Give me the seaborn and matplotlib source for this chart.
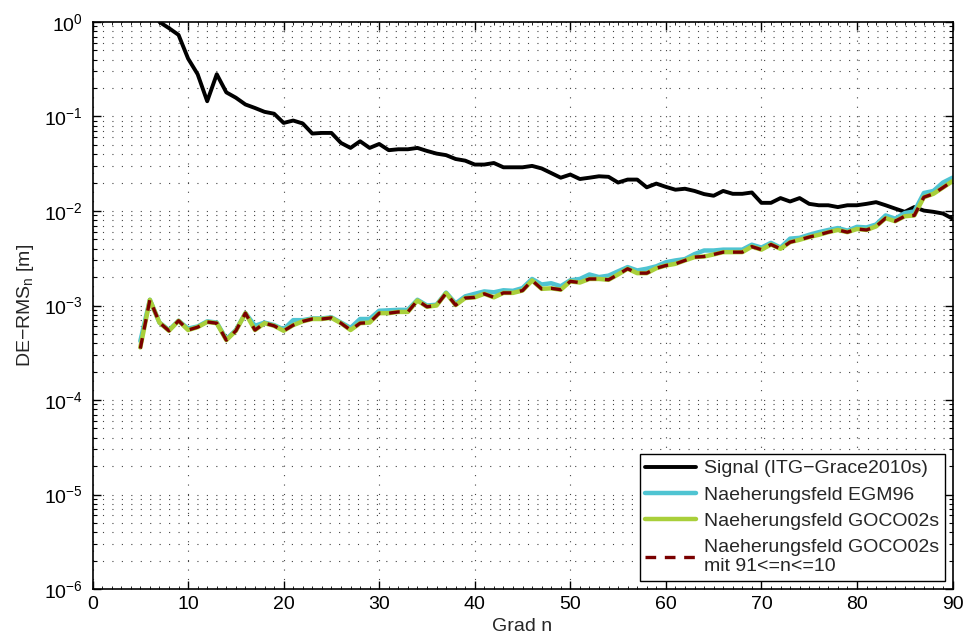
import numpy as np
import pandas as pd
import seaborn as sns
import matplotlib
matplotlib.use("Agg")
import matplotlib.pyplot as plt
from matplotlib.ticker import LogLocator, FixedLocator, NullFormatter, MultipleLocator

# ---------------- data ----------------
n_signal = list(range(7, 91))
signal = [1.0, 0.86, 0.73, 0.41, 0.28, 0.145, 0.28, 0.18, 0.158, 0.134,
          0.123, 0.112, 0.107, 0.0855, 0.0906, 0.0843, 0.066, 0.067, 0.067, 0.0525,
          0.0465, 0.0547, 0.0465, 0.0512, 0.044, 0.045, 0.045, 0.0465, 0.0432, 0.0405,
          0.039, 0.0355, 0.0341, 0.031, 0.031, 0.0322, 0.029, 0.029, 0.029, 0.030,
          0.0282, 0.0252, 0.0225, 0.0243, 0.0218, 0.0225, 0.0233, 0.023, 0.020, 0.0215,
          0.0215, 0.0178, 0.0195, 0.018, 0.0168, 0.0172, 0.0163, 0.0151, 0.0145, 0.0163,
          0.0152, 0.0152, 0.0157, 0.0122, 0.0122, 0.0137, 0.0126, 0.0137, 0.0119, 0.0115,
          0.0115, 0.0110, 0.0115, 0.0115, 0.0119, 0.0124, 0.0115, 0.0106, 0.0098, 0.0110,
          0.0101, 0.0098, 0.0094, 0.0083]

n_err = list(range(5, 91))
egm96 = [4.2e-4, 1.15e-3, 6.6e-4, 5.5e-4, 6.9e-4, 5.7e-4, 6.0e-4, 6.8e-4, 6.6e-4, 4.4e-4,
         5.5e-4, 8.3e-4, 6.1e-4, 6.6e-4, 6.2e-4, 5.6e-4, 7.0e-4, 7.0e-4, 7.3e-4, 7.3e-4,
         7.5e-4, 6.6e-4, 5.8e-4, 7.2e-4, 7.2e-4, 8.8e-4, 8.9e-4, 9.0e-4, 9.0e-4, 1.15e-3,
         1.0e-3, 1.02e-3, 1.37e-3, 1.05e-3, 1.25e-3, 1.33e-3, 1.41e-3, 1.38e-3, 1.45e-3, 1.43e-3,
         1.53e-3, 1.91e-3, 1.67e-3, 1.72e-3, 1.60e-3, 1.85e-3, 1.91e-3, 2.13e-3, 2.0e-3, 2.07e-3,
         2.3e-3, 2.55e-3, 2.35e-3, 2.45e-3, 2.6e-3, 2.87e-3, 3.0e-3, 3.1e-3, 3.5e-3, 3.82e-3,
         3.82e-3, 3.9e-3, 3.9e-3, 3.9e-3, 4.4e-3, 4.1e-3, 4.6e-3, 4.1e-3, 5.1e-3, 5.2e-3,
         5.6e-3, 5.97e-3, 6.3e-3, 6.6e-3, 6.2e-3, 6.8e-3, 6.7e-3, 7.2e-3, 8.98e-3, 8.3e-3,
         9.5e-3, 9.9e-3, 1.55e-2, 1.63e-2, 2.0e-2, 2.25e-2]
goco02s = [3.6e-4, 1.15e-3, 6.6e-4, 5.4e-4, 6.9e-4, 5.5e-4, 5.9e-4, 6.7e-4, 6.5e-4, 4.3e-4,
           5.4e-4, 8.3e-4, 5.5e-4, 6.5e-4, 6.1e-4, 5.4e-4, 6.2e-4, 6.8e-4, 7.2e-4, 7.2e-4,
           7.4e-4, 6.5e-4, 5.5e-4, 6.5e-4, 6.6e-4, 8.3e-4, 8.3e-4, 8.55e-4, 8.55e-4, 1.13e-3,
           9.7e-4, 1.0e-3, 1.35e-3, 1.01e-3, 1.2e-3, 1.22e-3, 1.33e-3, 1.22e-3, 1.36e-3, 1.36e-3,
           1.44e-3, 1.84e-3, 1.5e-3, 1.52e-3, 1.47e-3, 1.8e-3, 1.75e-3, 1.91e-3, 1.91e-3, 1.87e-3,
           2.13e-3, 2.45e-3, 2.2e-3, 2.2e-3, 2.48e-3, 2.65e-3, 2.76e-3, 3.0e-3, 3.25e-3, 3.3e-3,
           3.47e-3, 3.67e-3, 3.67e-3, 3.67e-3, 4.2e-3, 3.9e-3, 4.42e-3, 3.98e-3, 4.68e-3, 4.96e-3,
           5.3e-3, 5.6e-3, 5.97e-3, 6.3e-3, 5.97e-3, 6.45e-3, 6.3e-3, 6.87e-3, 8.4e-3, 7.8e-3,
           8.8e-3, 8.98e-3, 1.4e-2, 1.52e-2, 1.77e-2, 2.07e-2]
goco02s_restricted = [3.5e-4] + goco02s[1:]

labels = ["Signal (ITG\u2212Grace2010s)",
          "Naeherungsfeld EGM96",
          "Naeherungsfeld GOCO02s",
          "Naeherungsfeld GOCO02s\nmit 91<=n<=10"]
x_ticks = [0, 10, 20, 30, 40, 50, 60, 70, 80, 90]

# ---------------- style ----------------
sns.set_theme(style="white")
plt.rcParams['font.family'] = ['Liberation Sans', 'DejaVu Sans']
plt.rcParams['mathtext.fontset'] = 'custom'
plt.rcParams['mathtext.rm'] = 'Liberation Sans'
plt.rcParams['mathtext.it'] = 'Liberation Sans:italic'
plt.rcParams['mathtext.bf'] = 'Liberation Sans:bold'

FS = 14

fig = plt.figure(figsize=(9.68, 6.39), dpi=100)
ax = fig.add_axes([0.0956, 0.0782, 0.8884, 0.8874])

sns.lineplot(x=n_signal, y=signal, ax=ax, color='black', linewidth=2.8,
             label=labels[0], estimator=None, sort=False)
sns.lineplot(x=n_err, y=egm96, ax=ax, color='#4fc4d2', linewidth=3.2,
             label=labels[1], estimator=None, sort=False)
sns.lineplot(x=n_err, y=goco02s, ax=ax, color='#a9cf3a', linewidth=3.2,
             label=labels[2], estimator=None, sort=False)
sns.lineplot(x=n_err, y=goco02s_restricted, ax=ax, color='#7a0000', linewidth=2.4,
             linestyle=(0, (3.2, 2.6)), label=labels[3], estimator=None, sort=False)

ax.set_yscale('log')
ax.set_xlim(0, 90)
ax.set_ylim(1e-6, 1)
ax.xaxis.set_major_locator(FixedLocator(x_ticks))
ax.xaxis.set_minor_locator(MultipleLocator(1))
ax.xaxis.set_minor_formatter(NullFormatter())
ax.yaxis.set_major_locator(LogLocator(base=10, numticks=10))
ax.yaxis.set_minor_locator(LogLocator(base=10, subs=np.arange(2, 10), numticks=100))
ax.yaxis.set_minor_formatter(NullFormatter())

grid_ls = (0, (1, 7.5))
ax.grid(True, which='major', axis='both', color='#444444', linestyle=grid_ls, linewidth=0.8)
ax.grid(True, which='minor', axis='y', color='#444444', linestyle=grid_ls, linewidth=0.8)
ax.grid(False, which='minor', axis='x')
ax.set_axisbelow(True)

ax.tick_params(which='both', direction='in', top=True, right=True, bottom=True, left=True,
               colors='black', labelsize=FS)
ax.tick_params(which='major', length=6, width=1)
ax.tick_params(which='minor', length=3, width=0.8)
ax.tick_params(axis='x', which='minor', length=2, width=0.6)
ax.tick_params(axis='y', which='major', pad=7)
ax.tick_params(axis='x', which='major', pad=5)
for s in ax.spines.values():
    s.set_visible(True)
    s.set_color('black')
    s.set_linewidth(1.2)

ax.set_xlabel('Grad n', fontsize=FS, labelpad=3.5)
ax.set_ylabel('DE\u2212RMS$_\\mathregular{n}$ [m]', fontsize=FS, labelpad=6)

leg = ax.legend(loc='lower right', fontsize=FS, frameon=True, fancybox=False,
                edgecolor='black', framealpha=1, handlelength=2.6, handletextpad=0.4,
                labelspacing=0.45, borderpad=0.3, borderaxespad=0.4)
leg.get_frame().set_linewidth(1.0)

fig.savefig('out.png', dpi=100, facecolor='white')
